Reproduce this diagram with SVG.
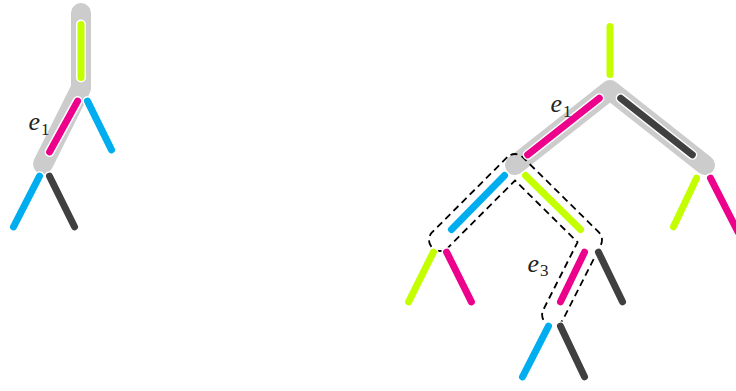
<svg xmlns="http://www.w3.org/2000/svg" width="736" height="391" viewBox="0 0 736 391">
<style>
.hl{fill:none;stroke:#cccccc;stroke-width:20;stroke-linecap:round;stroke-linejoin:round}
.dash{fill:none;stroke:#000;stroke-width:1.8;stroke-dasharray:7 4.5}
.halo line{stroke:#fff;stroke-width:10;stroke-linecap:round}
.seg line{stroke-width:7;stroke-linecap:round}
.lime{stroke:#c4ff00}
.pink{stroke:#ec008c}
.blue{stroke:#00aeef}
.dark{stroke:#404040}
.lbl{font-family:"Liberation Serif",serif;font-style:italic;font-size:26px;fill:#222}
.sub{font-family:"Liberation Serif",serif;font-size:17px;fill:#222}
</style>
<g id="highlight">
<path class="hl" d="M81,13 L81,88 L43,164"/>
<path class="hl" d="M515,165 L610,90 L705,165"/>
</g>
<g id="region">
<path class="dash" d="M507.22,157.22 L432.22,232.22 A11,11 0 0 0 447.78,247.78 L515.05,180.5 L577.56,242.18 L543.19,310.03 A11,11 0 0 0 562.81,319.97 L600.81,244.97 A11,11 0 0 0 598.73,232.17 L522.73,157.17 A11,11 0 0 0 507.22,157.22 Z"/>
</g>
<g id="connectors">
<g class="halo">
<line x1="81" y1="24.5" x2="81" y2="77.5"/>
<line x1="77.6" y1="101.1" x2="49.6" y2="151.9"/>
<line x1="87.5" y1="101.1" x2="111.5" y2="149.9"/>
<line x1="39.5" y1="176.2" x2="13.5" y2="226.8"/>
<line x1="49.5" y1="176.2" x2="74.5" y2="226.8"/>
<line x1="610" y1="26.5" x2="610" y2="74.5"/>
<line x1="599.3" y1="98.2" x2="527.7" y2="154.8"/>
<line x1="620.7" y1="98.2" x2="692.3" y2="154.8"/>
<line x1="504.5" y1="175.5" x2="451.5" y2="229.5"/>
<line x1="525.5" y1="175.5" x2="580.5" y2="229.5"/>
<line x1="433.4" y1="252.1" x2="408.6" y2="301.9"/>
<line x1="446.6" y1="252.1" x2="471.4" y2="301.9"/>
<line x1="584.5" y1="252.2" x2="560.5" y2="301.8"/>
<line x1="598.5" y1="252.2" x2="622.5" y2="301.8"/>
<line x1="548.5" y1="326.2" x2="522.5" y2="376.8"/>
<line x1="560.5" y1="326.2" x2="584.5" y2="376.8"/>
<line x1="696.5" y1="178.2" x2="673.5" y2="226.8"/>
<line x1="710.5" y1="178.2" x2="738" y2="232"/>
</g>
<g class="seg">
<line class="lime" x1="81" y1="24.5" x2="81" y2="77.5"/>
<line class="pink" x1="77.6" y1="101.1" x2="49.6" y2="151.9"/>
<line class="blue" x1="87.5" y1="101.1" x2="111.5" y2="149.9"/>
<line class="blue" x1="39.5" y1="176.2" x2="13.5" y2="226.8"/>
<line class="dark" x1="49.5" y1="176.2" x2="74.5" y2="226.8"/>
<line class="lime" x1="610" y1="26.5" x2="610" y2="74.5"/>
<line class="pink" x1="599.3" y1="98.2" x2="527.7" y2="154.8"/>
<line class="dark" x1="620.7" y1="98.2" x2="692.3" y2="154.8"/>
<line class="blue" x1="504.5" y1="175.5" x2="451.5" y2="229.5"/>
<line class="lime" x1="525.5" y1="175.5" x2="580.5" y2="229.5"/>
<line class="lime" x1="433.4" y1="252.1" x2="408.6" y2="301.9"/>
<line class="pink" x1="446.6" y1="252.1" x2="471.4" y2="301.9"/>
<line class="pink" x1="584.5" y1="252.2" x2="560.5" y2="301.8"/>
<line class="dark" x1="598.5" y1="252.2" x2="622.5" y2="301.8"/>
<line class="blue" x1="548.5" y1="326.2" x2="522.5" y2="376.8"/>
<line class="dark" x1="560.5" y1="326.2" x2="584.5" y2="376.8"/>
<line class="lime" x1="696.5" y1="178.2" x2="673.5" y2="226.8"/>
<line class="pink" x1="710.5" y1="178.2" x2="738" y2="232"/>
</g>
</g>
<g id="label-e1-left"><text class="lbl" x="28.5" y="130">e</text><text class="sub" x="41" y="134.5">1</text></g>
<g id="label-e1-right"><text class="lbl" x="550.5" y="111.5">e</text><text class="sub" x="563" y="116.5">1</text></g>
<g id="label-e3"><text class="lbl" x="527.5" y="271.5">e</text><text class="sub" x="540" y="275.5">3</text></g>
</svg>
